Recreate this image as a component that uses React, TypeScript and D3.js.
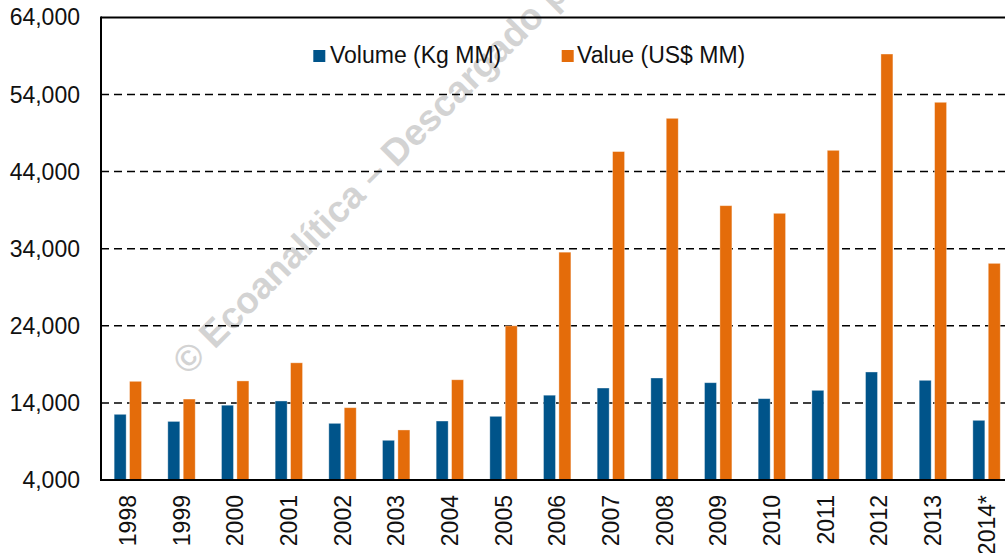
import React from "react";
import * as d3 from "d3";

const years = ["1998","1999","2000","2001","2002","2003","2004","2005","2006","2007","2008","2009","2010","2011","2012","2013","2014*"];
const volume = [12520,11600,13700,14250,11350,9150,11650,12260,15000,15930,17230,16620,14550,15630,18010,16930,11740];
const valueUSD = [16800,14500,16850,19200,13380,10490,17000,24000,33550,46600,50910,39580,38590,46760,59250,52990,32100];
const yTicks = [4000,14000,24000,34000,44000,54000,64000];
const seriesNames = ["Volume (Kg MM)", "Value (US$ MM)"];
const colors = ["#00548A", "#E46C0A"];

const W = 1005, H = 553;
const left = 101, right = 1013.4, top = 17.4, bottom = 480;
const FONT = "Arial, 'Liberation Sans', sans-serif";

export default function App() {
  const x = d3.scaleBand<string>().domain(years).range([left, right]).paddingInner(0.4895).paddingOuter(0.245);
  const xi = d3.scaleBand<string>().domain(["vol","val"]).range([0, x.bandwidth()]).paddingInner(0.221);
  const y = d3.scaleLinear().domain([4000, 64000]).range([bottom, top]);
  const fmt = d3.format(",");
  const series = [volume, valueUSD];
  const keys = ["vol","val"];

  return (
    <svg width={W} height={H} style={{ position: "absolute", left: 0, top: 0, background: "#fff" }} fontFamily={FONT}>
      <rect x={0} y={0} width={W} height={H} fill="#fff" />
      {/* watermark */}
      <text transform="translate(188,376.5) rotate(-45)" fontSize={37} fontWeight="bold" fill="#d3d3d3">
        © Ecoanalítica – Descargado por
      </text>
      {/* gridlines */}
      {yTicks.filter(t => t !== 4000 && t !== 64000).map(t => (
        <line key={t} x1={left} x2={W} y1={y(t)} y2={y(t)} stroke="#000" strokeWidth={1.5} strokeDasharray="8,5" />
      ))}
      {/* bars */}
      {series.map((s, si) => (
        <g key={si}>
          {years.map((yr, i) => (
            <rect key={yr}
              x={(x(yr) as number) + (xi(keys[si]) as number)}
              y={y(s[i])}
              width={xi.bandwidth()}
              height={y(4000) - y(s[i])}
              fill={colors[si]}
              stroke="rgba(255,255,255,0.45)" strokeWidth={0.8} />
          ))}
        </g>
      ))}
      {/* axes */}
      <line x1={left} x2={W} y1={top} y2={top} stroke="#000" strokeWidth={2} />
      <line x1={left} x2={W} y1={bottom} y2={bottom} stroke="#000" strokeWidth={2} />
      <line x1={left} x2={left} y1={top - 1} y2={bottom + 1} stroke="#000" strokeWidth={2} />
      {/* y tick labels */}
      {yTicks.map(t => (
        <text key={t} x={80} y={y(t)} dy="0.35em" textAnchor="end" fontSize={23} fill="#111">{fmt(t)}</text>
      ))}
      {/* x labels */}
      {years.map(yr => (
        <text key={yr} transform={`translate(${(x(yr) as number) + x.bandwidth() / 2},495) rotate(-90)`}
          dy="0.36em" textAnchor="end" fontSize={23} fill="#111">{yr}</text>
      ))}
      {/* legend */}
      <rect x={313.3} y={50} width={12} height={12} fill={colors[0]} />
      <text x={330} y={63} fontSize={23} fill="#111">{seriesNames[0]}</text>
      <rect x={561.7} y={50} width={12} height={12} fill={colors[1]} />
      <text x={577} y={63} fontSize={23} fill="#111">{seriesNames[1]}</text>
    </svg>
  );
}
